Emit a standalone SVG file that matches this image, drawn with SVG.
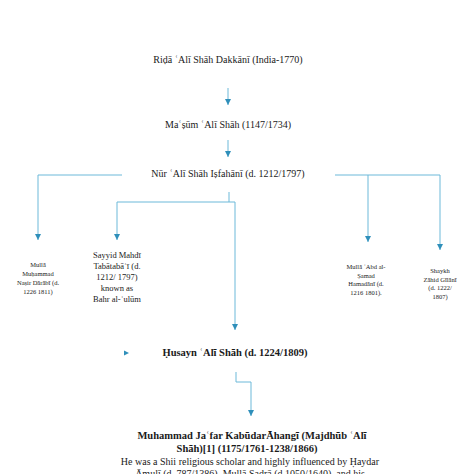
<svg xmlns="http://www.w3.org/2000/svg" width="474" height="474" viewBox="0 0 474 474">
<defs>
<style>
text{font-family:"Liberation Serif","Times New Roman",serif;fill:#1a1a1a;text-anchor:middle}
.t{font-size:10px}
.b{font-size:10.5px;font-weight:bold}
.s{font-size:6.5px}
.m{font-size:8.5px}
.c{fill:none;stroke:#6db9d9;stroke-width:1}
</style>
<marker id="ah" viewBox="0 0 10 10" refX="10" refY="5" markerWidth="6" markerHeight="6" markerUnits="userSpaceOnUse" orient="auto">
<path d="M0,0 L10,5 L0,10 Z" fill="#2f8fba"/>
</marker>
</defs>
<rect width="474" height="474" fill="#ffffff"/>
<g id="connectors">
<path class="c" d="M228,88 V105" marker-end="url(#ah)"/>
<path class="c" d="M228,140 V157" marker-end="url(#ah)"/>
<path class="c" d="M122,175 H38 V240" marker-end="url(#ah)"/>
<path class="c" d="M229,192 V202 H117 V240" marker-end="url(#ah)"/>
<path class="c" d="M229,202 H235 V330" marker-end="url(#ah)"/>
<path class="c" d="M335,175 H440 V250" marker-end="url(#ah)"/>
<path class="c" d="M368,175 V242" marker-end="url(#ah)"/>
<path class="c" d="M236,372 V382 H251 V416" marker-end="url(#ah)"/>
<path d="M124,350.5 L129,353 L124,355.5 Z" fill="#2f8fba"/>
</g>
<g id="n1"><text class="t" x="228" y="63">Riḍā ʿAlī Shāh Dakkānī (India-1770)</text></g>
<g id="n2"><text class="t" x="228" y="128">Maʿṣūm ʿAlī Shāh (1147/1734)</text></g>
<g id="n3"><text class="t" x="228" y="177">Nūr ʿAlī Shāh Iṣfahānī (d. 1212/1797)</text></g>
<g id="n4">
<text class="s" x="38" y="267">Mullā</text>
<text class="s" x="38" y="276">Muḥammad</text>
<text class="s" x="38" y="285">Naṣir Dārābī (d.</text>
<text class="s" x="38" y="294">1226 1811)</text>
</g>
<g id="n5">
<text class="m" x="117" y="258">Sayyid Mahdī</text>
<text class="m" x="117" y="269">Tabātabāʾī (d.</text>
<text class="m" x="117" y="280">1212/ 1797)</text>
<text class="m" x="117" y="291">known as</text>
<text class="m" x="117" y="302">Bahr al-ʿulūm</text>
</g>
<g id="n6">
<text class="s" x="366" y="269">Mullā ʿAbd al-</text>
<text class="s" x="366" y="277.5">Ṣamad</text>
<text class="s" x="366" y="286">Hamadānī (d.</text>
<text class="s" x="366" y="294.5">1216 1801).</text>
</g>
<g id="n7">
<text class="s" x="440" y="273">Shaykh</text>
<text class="s" x="440" y="281.5">Zāhid Gīlānī</text>
<text class="s" x="440" y="290">(d. 1222/</text>
<text class="s" x="440" y="298.5">1807)</text>
</g>
<g id="n8"><text class="b" x="235" y="356">Ḥusayn ʿAlī Shāh (d. 1224/1809)</text></g>
<g id="n9">
<text class="b" x="252" y="439">Muhammad Jaʿfar KabūdarĀhangī (Majdhūb ʿAlī</text>
<text class="b" x="247" y="452">Shāh)[1] (1175/1761-1238/1866)</text>
<text class="t" x="250" y="465">He was a Shii religious scholar and highly influenced by Ḥaydar</text>
<text class="t" x="250" y="477">Āmulī (d. 787/1386), Mullā Ṣadrā (d.1050/1640), and his</text>
</g>
</svg>
